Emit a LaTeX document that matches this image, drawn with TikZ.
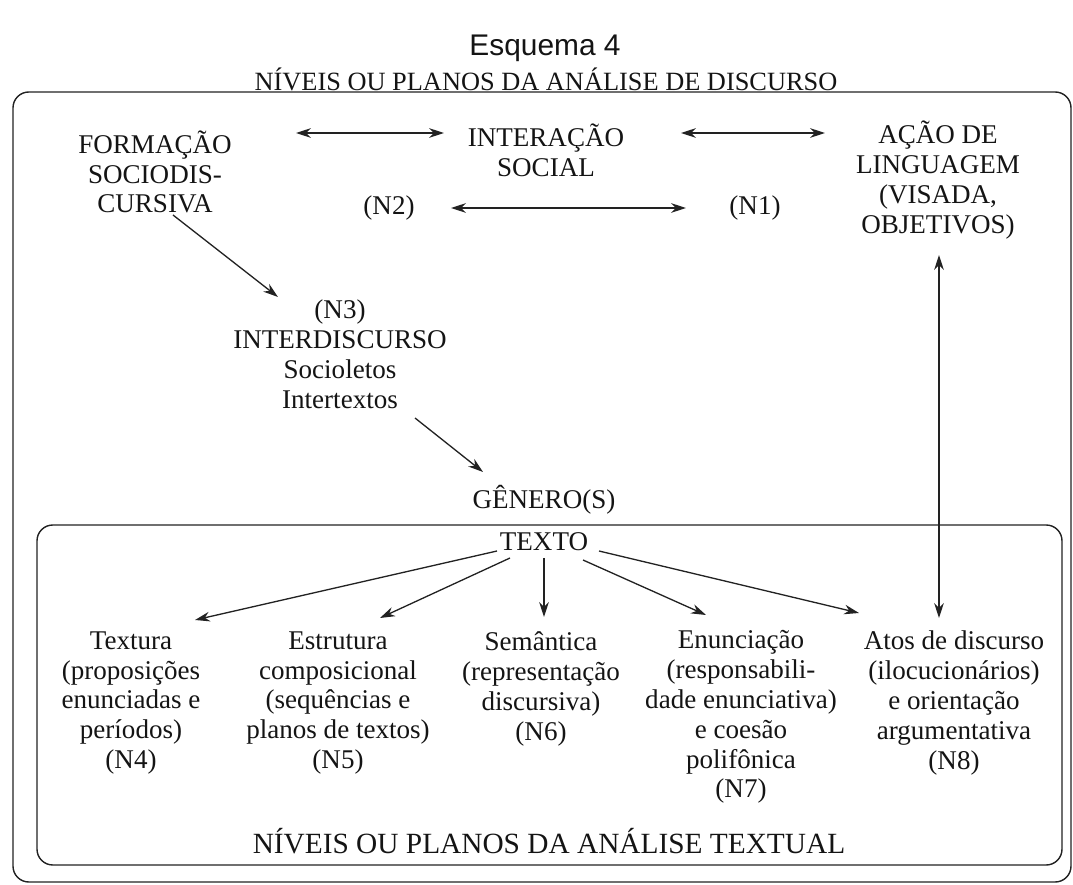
\documentclass[tikz,border=0pt]{standalone}
\usepackage{fontspec}
\setmainfont{Liberation Serif}
\newfontfamily\headfont{Liberation Sans}
\usepackage{tikz}
\usetikzlibrary{calc,arrows.meta}
\definecolor{ink}{HTML}{141414}
\definecolor{rule}{HTML}{222222}
\tikzset{
  levelText/.style={text=ink, align=center, inner sep=0pt, font=\fontsize{15.4}{17}\selectfont},
  frameBox/.style={draw=rule, line width=0.8pt, rounded corners=9pt},
  oneWay/.style={draw=rule, line width=0.75pt, -{Stealth[length=8.5pt,width=5.5pt]}},
  bothWays/.style={draw=rule, line width=0.75pt, {Stealth[length=8.5pt,width=5.5pt]}-{Stealth[length=8.5pt,width=5.5pt]}}
}

\begin{document}
\begin{tikzpicture}[x=0.02cm, y=-0.02cm]
  \useasboundingbox (0,0) rectangle (1073,885);

  \draw[frameBox] (13,92) rectangle (1071,882);
  \draw[frameBox] (37,525) rectangle (1062,865);

  \node[levelText, font=\headfont\fontsize{17}{20}\selectfont] (esq) at (545,48) {Esquema 4};
  \node[levelText, font=\fontsize{15}{17}\selectfont] (discTitle) at (546,79) {NÍVEIS OU PLANOS DA ANÁLISE DE DISCURSO};

  \node[levelText] (form) at (155,172) {FORMAÇÃO\\SOCIODIS-\\CURSIVA};
  \node[levelText] (inter) at (546,150) {INTERAÇÃO\\SOCIAL};
  \node[levelText] (acao) at (938,180) {AÇÃO DE\\LINGUAGEM\\(VISADA,\\OBJETIVOS)};
  \node[levelText] (n2) at (389,208) {(N2)};
  \node[levelText] (n1) at (755,208) {(N1)};
  \node[levelText] (interd) at (340,354) {(N3)\\INTERDISCURSO\\Socioletos\\Intertextos};
  \node[levelText] (genero) at (544,500) {GÊNERO(S)};
  \node[levelText] (texto) at (544,542) {TEXTO};

  \node[levelText] (textura) at (131,703) {Textura\\(proposições\\enunciadas e\\períodos)\\(N4)};
  \node[levelText] (estrut) at (338,703) {Estrutura\\composicional\\(sequências e\\planos de textos)\\(N5)};
  \node[levelText] (seman) at (541,689) {Semântica\\(representação\\discursiva)\\(N6)};
  \node[levelText] (enunc) at (741,717) {Enunciação\\(responsabili-\\dade enunciativa)\\e coesão\\polifônica\\(N7)};
  \node[levelText] (atos) at (954,703) {Atos de discurso\\(ilocucionários)\\e orientação\\argumentativa\\(N8)};
  \node[levelText, font=\fontsize{16.7}{19}\selectfont] (textTitle) at (549,841) {NÍVEIS OU PLANOS DA ANÁLISE TEXTUAL};

  \draw[bothWays] ($(form)+(141,-39)$) -- ($(inter)+(-102,-17)$);
  \draw[bothWays] ($(inter)+(135,-17)$) -- ($(acao)+(-113,-47)$);
  \draw[bothWays] ($(n2)+(62,0)$) -- ($(n1)+(-69,0)$);
  \draw[oneWay] ($(form)+(18,43)$) -- ($(interd)+(-62,-57)$);
  \draw[oneWay] ($(interd)+(75,64)$) -- ($(genero)+(-61,-28)$);

  \draw[oneWay] ($(texto)+(-47,9)$) -- ($(textura)+(64,-83)$);
  \draw[oneWay] ($(texto)+(-34,16)$) -- ($(estrut)+(42,-85)$);
  \draw[oneWay] ($(texto)+(0,16)$) -- ($(seman)+(3,-72)$);
  \draw[oneWay] ($(texto)+(39,18)$) -- ($(enunc)+(-35,-102)$);
  \draw[oneWay] ($(texto)+(55,9)$) -- ($(atos)+(-95,-90)$);
  \draw[bothWays] ($(atos)+(-15,-85)$) -- ($(acao)+(1,75)$);
\end{tikzpicture}
\end{document}
